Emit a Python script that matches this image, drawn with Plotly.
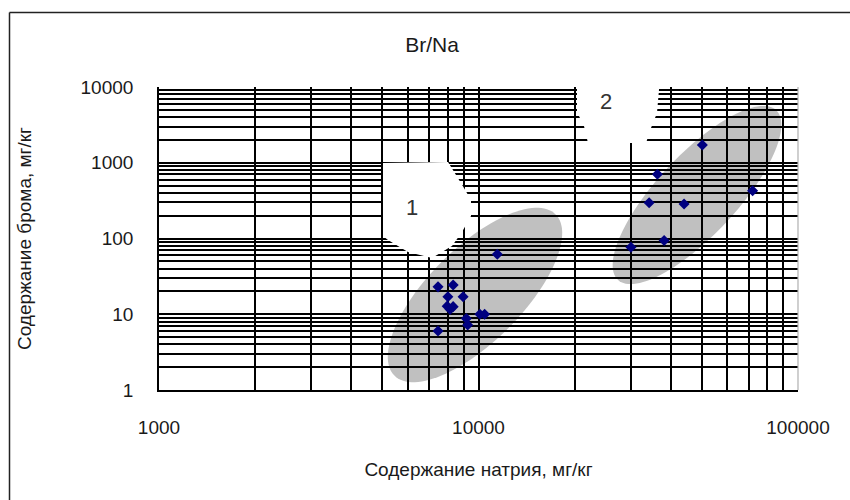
import numpy as np
import plotly.graph_objects as go

# ---------------- data ----------------
na_group1 = [11450, 7470, 8330, 8020, 8950, 7980, 8330, 8150, 9160, 9250, 10100, 10450, 7470]
br_group1 = [62, 23, 24.3, 17, 17, 12.8, 12.6, 11.6, 8.8, 7.2, 10, 10, 6.0]

na_group2 = [50200, 36300, 72100, 34200, 44000, 38100, 30000]
br_group2 = [1715, 704, 428, 297, 285, 94, 76.5]

x_major = [1000, 10000, 100000]
x_labels = ["1000", "10000", "100000"]
y_major = [1, 10, 100, 1000, 10000]
y_labels = ["1", "10", "100", "1000", "10000"]

title_text = "Br/Na"
x_title = "Содержание натрия, мг/кг"
y_title = "Содержание брома, мг/кг"
group_labels = ["1", "2"]

# ---------------- layout geometry ----------------
W, H = 850, 500
ML, MR, MT, MB = 159, 52, 87, 110
PW, PH = W - ML - MR, H - MT - MB


def px_to_paper(px, py):
    return (px - ML) / PW, (H - MB - py) / PH


def log_ticks(majors, labels):
    vals, texts = [], []
    for i, m in enumerate(majors):
        vals.append(m)
        texts.append(labels[i])
        if i < len(majors) - 1:
            for k in range(2, 10):
                vals.append(m * k)
                texts.append("")
    return vals, texts


xt_vals, xt_text = log_ticks(x_major, x_labels)
yt_vals, yt_text = log_ticks(y_major, y_labels)

FONT = "Liberation Sans, Arial, sans-serif"
TXT = "#1a1a1a"

# highlight ellipses (pixel centre, semi-axes, angle in degrees)
ellipses = [
    dict(cx=475, cy=295, a=114, b=47, ang=45),
    dict(cx=697, cy=195, a=116, b=40, ang=47),
]

# white label blobs (pixel outlines)
blobs = [
    [(383, 163), (448, 162), (456, 175), (464, 188), (471, 200), (471, 216),
     (462, 232), (452, 246), (432, 258), (408, 252), (398, 246), (388, 240), (383, 236)],
    [(577, 78), (660, 78), (657, 113), (651, 128), (646, 143), (588, 143),
     (584, 126), (577, 112)],
]
label_pos = [(412, 207), (606, 101)]


def ellipse_path(e, n=120):
    t = np.linspace(0, 2 * np.pi, n, endpoint=False)
    th = np.deg2rad(e["ang"])
    xs = e["cx"] + e["a"] * np.cos(t) * np.cos(th) - e["b"] * np.sin(t) * np.sin(th)
    ys = e["cy"] - (e["a"] * np.cos(t) * np.sin(th) + e["b"] * np.sin(t) * np.cos(th))
    pts = [px_to_paper(x, y) for x, y in zip(xs, ys)]
    return "M " + " L ".join(f"{x:.5f},{y:.5f}" for x, y in pts) + " Z"


def poly_path(pts_px):
    pts = [px_to_paper(x, y) for x, y in pts_px]
    return "M " + " L ".join(f"{x:.5f},{y:.5f}" for x, y in pts) + " Z"


shapes = []
for e in ellipses:
    shapes.append(dict(type="path", xref="paper", yref="paper", path=ellipse_path(e),
                       fillcolor="#c0c0c0", line=dict(width=0), layer="below"))
for b in blobs:
    shapes.append(dict(type="path", xref="paper", yref="paper", path=poly_path(b),
                       fillcolor="white", line=dict(width=0), layer="above"))

# right edge of plot area (light grey) and outer chart frame
shapes.append(dict(type="line", xref="paper", yref="paper", x0=1, x1=1, y0=0, y1=1,
                   line=dict(color="#b0b0b0", width=1.2), layer="above"))
fl, ft = px_to_paper(9.5, 12.5)
fr, fb = px_to_paper(W + 5, H + 5)
shapes.append(dict(type="line", xref="paper", yref="paper", x0=fl, x1=fl, y0=fb, y1=ft,
                   line=dict(color="#222222", width=1.5)))
shapes.append(dict(type="line", xref="paper", yref="paper", x0=fl, x1=fr, y0=ft, y1=ft,
                   line=dict(color="#222222", width=1.5)))

annotations = []
for lab, (lx, ly) in zip(group_labels, label_pos):
    ax_, ay_ = px_to_paper(lx, ly)
    annotations.append(dict(x=ax_, y=ay_, xref="paper", yref="paper", text=lab,
                            showarrow=False, font=dict(family=FONT, size=22, color="#333333"),
                            xanchor="center", yanchor="middle"))

fig = go.Figure()
fig.add_trace(go.Scatter(x=na_group1 + na_group2, y=br_group1 + br_group2, mode="markers",
                         marker=dict(symbol="diamond", size=8.5, color="#000080",
                                     line=dict(width=0)),
                         showlegend=False, hoverinfo="x+y"))

fig.update_layout(
    width=W, height=H,
    margin=dict(l=ML, r=MR, t=MT, b=MB, autoexpand=False),
    paper_bgcolor="white", plot_bgcolor="white",
    font=dict(family=FONT, color=TXT),
    title=dict(text=title_text, x=432 / W, xref="container", xanchor="center",
               y=1 - 45 / H, yref="container", yanchor="middle",
               font=dict(family=FONT, size=21, color=TXT)),
    shapes=shapes, annotations=annotations,
    xaxis=dict(type="log", range=[3, 5], tickmode="array", tickvals=xt_vals, ticktext=xt_text,
               showgrid=True, gridcolor="black", gridwidth=1.6,
               showline=True, linecolor="black", linewidth=1.6,
               ticks="", ticklabelstandoff=19, tickfont=dict(size=19, family=FONT, color=TXT),
               zeroline=False,
               title=dict(text=x_title, standoff=26, font=dict(size=19, family=FONT, color=TXT))),
    yaxis=dict(type="log", range=[0, 4], tickmode="array", tickvals=yt_vals, ticktext=yt_text,
               showgrid=True, gridcolor="black", gridwidth=1.6,
               showline=True, linecolor="black", linewidth=1.6,
               ticks="", ticklabelstandoff=20, tickfont=dict(size=19, family=FONT, color=TXT),
               zeroline=False,
               title=dict(text=y_title, standoff=44, font=dict(size=19, family=FONT, color=TXT))),
)

fig.write_html("out.html")
